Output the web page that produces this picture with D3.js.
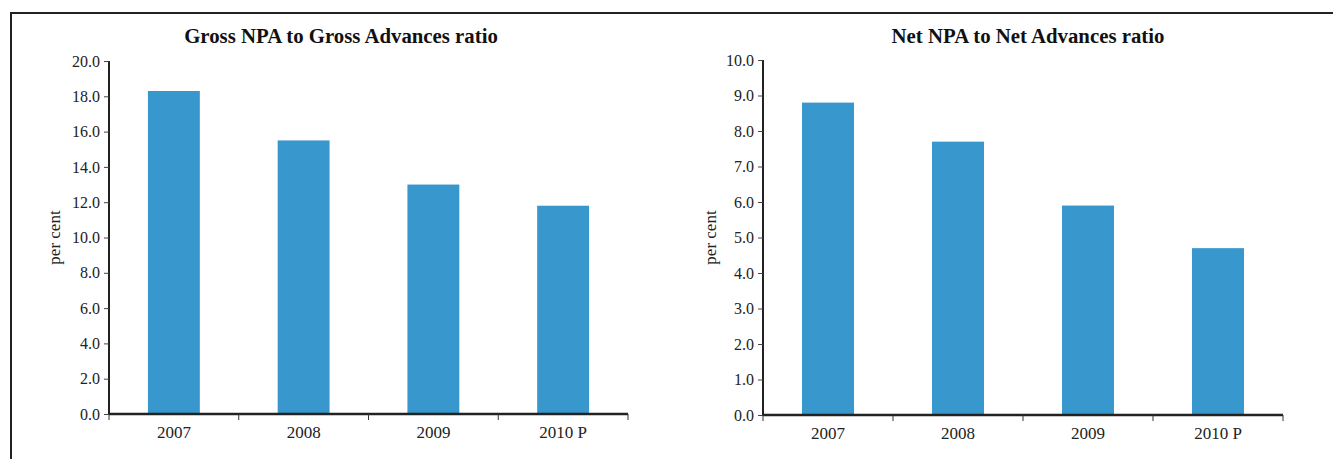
<!DOCTYPE html>
<html>
<head>
<meta charset="utf-8">
<script src="https://cdn.jsdelivr.net/npm/d3@7"></script>
<style>
  html, body { margin: 0; padding: 0; background: #fff; }
  svg { display: block; }
  .title { font-family: "Liberation Serif", serif; font-weight: bold; font-size: 20.8px; fill: #111; }
  .ylabel { font-family: "Liberation Serif", serif; font-size: 17px; fill: #222; }
</style>
</head>
<body>
<svg id="chart" width="1333" height="459"></svg>
<script>
// Fiscal years shown on both panels
const years = ["2007", "2008", "2009", "2010 P"];
// Gross NPA to gross advances (per cent)
const grossRatio = [18.3, 15.5, 13.0, 11.8];
// Net NPA to net advances (per cent)
const netRatio = [8.8, 7.7, 5.9, 4.7];
const grossTicks = [0, 2, 4, 6, 8, 10, 12, 14, 16, 18, 20];
const netTicks = [0, 1, 2, 3, 4, 5, 6, 7, 8, 9, 10];

const svg = d3.select("#chart");
const barColor = "#3897cd";
const labelFont = '"Liberation Serif", serif';

// outer frame (left and top rules)
svg.append("path")
  .attr("d", "M11,459 V13 H1333")
  .attr("fill", "none")
  .attr("stroke", "#222")
  .attr("stroke-width", 2);

function panel(opts) {
  const g = svg.append("g");
  const x = d3.scaleBand().domain(years).range([opts.x0, opts.x1]).paddingInner(0.6).paddingOuter(0.3);
  const y = d3.scaleLinear().domain([0, opts.max]).range([opts.y0, opts.y1]);

  g.selectAll("rect.bar").data(opts.values).join("rect")
    .attr("class", "bar")
    .attr("x", (d, i) => x(years[i]))
    .attr("width", x.bandwidth())
    .attr("y", d => y(d))
    .attr("height", d => y(0) - y(d))
    .attr("fill", barColor);

  const yAxis = g.append("g")
    .attr("transform", `translate(${opts.x0},0)`)
    .call(d3.axisLeft(y).tickValues(opts.ticks).tickFormat(d3.format(".1f")).tickSize(5).tickPadding(4));
  yAxis.select(".domain").attr("stroke", "#222").attr("stroke-width", 2).attr("d", `M0,${opts.y0}V${opts.y1}`);
  yAxis.selectAll(".tick line").attr("stroke", "#444");
  yAxis.selectAll(".tick text")
    .attr("font-family", labelFont).attr("font-size", 16).attr("fill", "#222");

  // category axis: ticks sit on the band boundaries
  const edges = d3.scaleLinear().domain([0, years.length]).range([opts.x0, opts.x1]);
  const xAxis = g.append("g").attr("transform", `translate(0,${opts.y0})`);
  xAxis.append("line")
    .attr("x1", opts.x0).attr("x2", opts.x1)
    .attr("stroke", "#222").attr("stroke-width", 2.5);
  xAxis.selectAll("line.edge").data(d3.range(years.length + 1)).join("line")
    .attr("class", "edge")
    .attr("x1", d => edges(d)).attr("x2", d => edges(d))
    .attr("y1", 0).attr("y2", 6)
    .attr("stroke", "#333");
  xAxis.selectAll("text").data(years).join("text")
    .attr("x", d => x(d) + x.bandwidth() / 2)
    .attr("y", 24)
    .attr("text-anchor", "middle")
    .attr("font-family", labelFont)
    .attr("font-size", 17)
    .attr("fill", "#222")
    .text(d => d);

  g.append("text")
    .attr("class", "title")
    .attr("x", opts.titleX)
    .attr("y", 43)
    .attr("text-anchor", "middle")
    .text(opts.title);

  g.append("text")
    .attr("class", "ylabel")
    .attr("transform", `translate(${opts.labelX},${(opts.y0 + opts.y1) / 2}) rotate(-90)`)
    .attr("text-anchor", "middle")
    .text("per cent");
}

panel({
  title: "Gross NPA to Gross Advances ratio",
  values: grossRatio, ticks: grossTicks, max: 20,
  x0: 109, x1: 628, y0: 414, y1: 61, titleX: 341, labelX: 60
});

panel({
  title: "Net NPA to Net Advances ratio",
  values: netRatio, ticks: netTicks, max: 10,
  x0: 763, x1: 1283, y0: 415, y1: 60, titleX: 1028, labelX: 716
});
</script>
</body>
</html>
